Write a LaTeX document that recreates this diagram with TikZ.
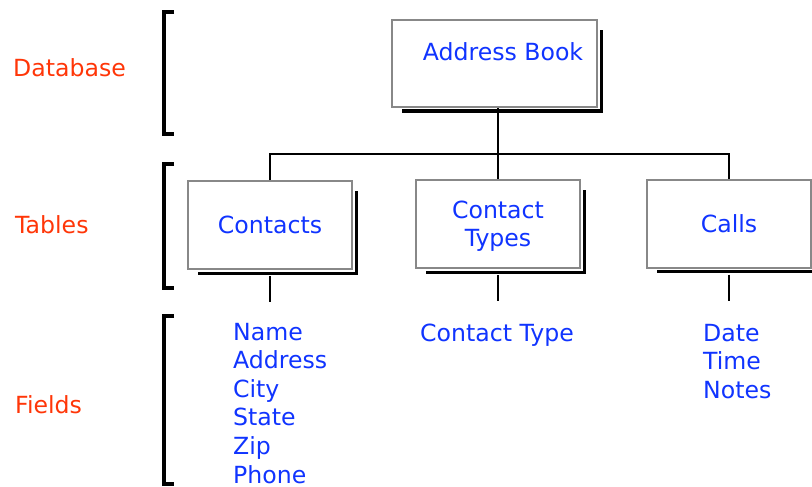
\documentclass[tikz,border=0pt]{standalone}
\usepackage{fontspec}
\setmainfont{DejaVu Sans}

\definecolor{fieldblue}{RGB}{16,52,255}
\definecolor{levelred}{RGB}{255,54,8}
\definecolor{boxgray}{RGB}{136,136,136}

\newcommand{\diagfont}{\fontsize{23.6}{28}\selectfont}

\begin{document}
\begin{tikzpicture}[x=1pt, y=-1pt,
    tbl/.style={draw=boxgray, line width=2pt, fill=white, minimum width=164pt,
      minimum height=88pt, inner sep=0pt, align=center, text=fieldblue,
      font=\diagfont, text depth=0pt},
    shadowline/.style={draw=black, line width=3.4pt},
    link/.style={draw=black, line width=2.6pt},
    bracket/.style={draw=black, line width=3.4pt},
    level/.style={text=levelred, font=\diagfont, anchor=base west, inner sep=0pt},
    field/.style={text=fieldblue, font=\diagfont, anchor=base west, inner sep=0pt}]
            \useasboundingbox (0,0) rectangle (812,487);

            % Levels
            \draw[bracket] (174,12) -- (164,12) -- (164,134) -- (174,134);
            \draw[bracket] (174,164) -- (164,164) -- (164,288) -- (174,288);
            \draw[bracket] (174,316) -- (164,316) -- (164,484) -- (174,484);
            \node[level] (dblevel) at (13,77) {Database};
            \node[level] (tbllevel) at (15,233) {Tables};
            \node[level] (fldlevel) at (15,413) {Fields};

            % Boxes
            \node[tbl, minimum width=205pt, minimum height=87pt] (book) at (494.5,63.5) {};
            \node[field, anchor=base] (booktext) at (503,61) {Address Book};
            \node[tbl] (contacts) at (270,225) {Contacts};
            \node[tbl] (types) at (498,224) {Contact\\Types};
            \node[tbl] (calls) at (729,223.5) {Calls};
            \foreach \b in {book,contacts,types,calls}
              \draw[shadowline] ([xshift=11pt,yshift=-3.2pt]\b.south west)
                -- ([xshift=3.2pt,yshift=-3.2pt]\b.south east)
                -- ([xshift=3.2pt,yshift=-11pt]\b.north east);

            % Connectors
            \coordinate (bar) at (0,154);
            \draw[link] (book.south -| types.north) -- (types.north);
            \draw[link] (contacts.north) -- (contacts.north |- bar)
              -- (calls.north |- bar) -- (calls.north);
            \foreach \b in {contacts,types,calls} {
              \coordinate (\b-end) at ([yshift=-32pt]\b.south);
              \draw[link] ([yshift=-6pt]\b.south) -- (\b-end);
            }

            % Fields
            \foreach \f [count=\i] in {Name,Address,City,State,Zip,Phone}
              \node[field] (cfield\i) at (233,340+28.6*\i-28.6) {\f};
            \node[field] (tfield1) at (420,341) {Contact Type};
            \foreach \f [count=\i] in {Date,Time,Notes}
              \node[field] (kfield\i) at (703,341+28.6*\i-28.6) {\f};
        \end{tikzpicture}
\end{document}
